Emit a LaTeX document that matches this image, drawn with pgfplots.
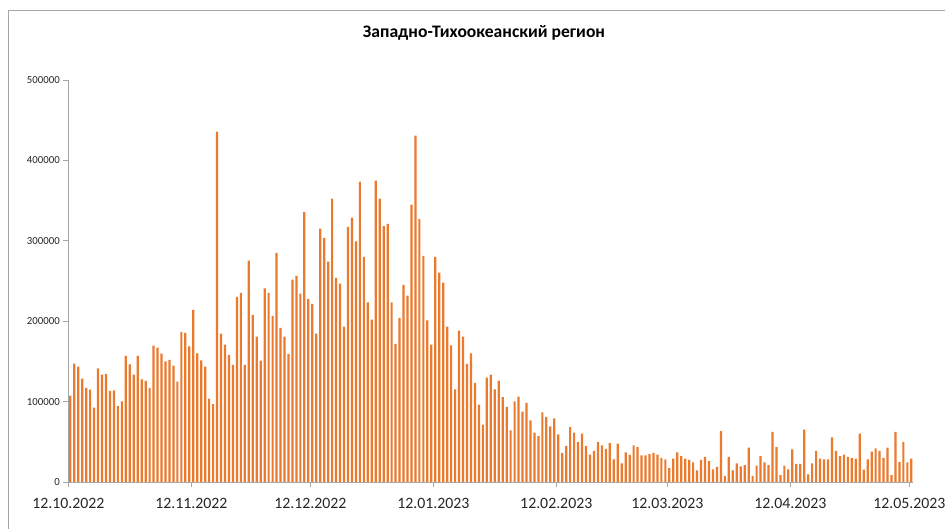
\documentclass[border=0pt]{standalone}
\usepackage{pgfplots}
\pgfplotsset{compat=1.18}
\usepackage{pgfplotstable}
\usepackage{fontspec}
\setmainfont{Carlito}
\definecolor{barorange}{HTML}{EB7A2C}
\definecolor{axisgray}{HTML}{A6A6A6}
\definecolor{txt}{HTML}{262626}
\pgfplotstableread{
x y
0 107400
1 147200
2 143500
3 128600
4 117000
5 114900
6 92500
7 141400
8 133500
9 134400
10 113200
11 114000
12 94600
13 100400
14 156800
15 146400
16 133500
17 156800
18 127700
19 125700
20 117000
21 169600
22 167100
23 159700
24 150100
25 151800
26 144700
27 124800
28 186600
29 185400
30 168800
31 214000
32 160100
33 151400
34 143500
35 103700
36 97000
37 435800
38 184500
39 170900
40 158000
41 145600
42 230200
43 235100
44 145600
45 275400
46 207800
47 180800
48 151000
49 240900
50 235100
51 206500
52 284900
53 191600
54 180800
55 159200
56 251700
57 256300
58 234300
59 335900
60 227300
61 221400
62 184500
63 315200
64 303600
65 274100
66 352500
67 253800
68 246700
69 193200
70 317200
71 328900
72 299400
73 373600
74 279900
75 223500
76 202000
77 374900
78 352500
79 318100
80 321000
81 223500
82 171700
83 204000
84 245100
85 231800
86 345000
87 430900
88 326800
89 281200
90 201100
91 170900
92 279900
93 260400
94 248000
95 193200
96 170000
97 115300
98 188300
99 180800
100 146800
101 160100
102 123200
103 96200
104 71300
105 129800
106 133500
107 115300
108 126100
109 105700
110 93300
111 64300
112 100400
113 106200
114 87500
115 98300
116 76700
117 61400
118 57200
119 86700
120 80900
121 69300
122 79200
123 59300
124 36100
125 44800
126 68400
127 61400
128 49800
129 60100
130 44800
131 34000
132 38600
133 49800
134 45600
135 41100
136 48500
137 28200
138 47700
139 23200
140 36900
141 33600
142 45600
143 43500
144 33200
145 33200
146 34800
147 36100
148 34000
149 29900
150 28200
151 17400
152 29000
153 36900
154 32300
155 29000
156 27400
157 24500
158 14500
159 27400
160 31100
161 26100
162 15800
163 18700
164 63400
165 7500
166 31100
167 14500
168 23200
169 19500
170 21100
171 42700
172 7500
173 20300
174 32300
175 24500
176 21100
177 62200
178 43500
179 8700
180 20300
181 15800
182 40600
183 22400
184 22400
185 65100
186 9500
187 23200
188 38600
189 29000
190 28200
191 28200
192 55600
193 38600
194 32300
195 34000
196 31100
197 29900
198 29000
199 60100
200 15300
201 28200
202 37700
203 41900
204 38600
205 29900
206 42700
207 8700
208 62200
209 24900
210 49800
211 24500
212 29000
}\datatable
\begin{document}
\begin{tikzpicture}
\path[use as bounding box] (0,0) rectangle (945pt,529pt);
\draw[axisgray, line width=0.8pt] (8pt,0) -- (8pt,519pt) -- (945pt,519pt);
\begin{axis}[
  at={(68.3pt,47pt)}, anchor=south west,
  scale only axis, width=845pt, height=402pt,
  xmin=-0.5, xmax=212.5, ymin=0, ymax=500000,
  axis x line*=bottom, axis y line*=left,
  axis line style={axisgray, line width=0.8pt},
  tick style={axisgray, line width=0.8pt},
  tick align=outside, major tick length=5pt,
  xtick={-0.5,30.5,60.5,91.5,122.5,150.5,181.5,211.5},
  xticklabels={12.10.2022,12.11.2022,12.12.2022,12.01.2023,12.02.2023,12.03.2023,12.04.2023,12.05.2023},
  ytick={0,100000,200000,300000,400000,500000},
  yticklabels={0,100000,200000,300000,400000,500000},
  xticklabel style={font=\fontsize{15.8}{18}\selectfont, text=txt, yshift=-8pt},
  yticklabel style={font=\fontsize{10.8}{12}\selectfont, text=txt},
  scaled y ticks=false,
  /pgf/number format/assume math mode=true,
  clip=false,
]
\addplot[ybar, bar width=2.2pt, fill=barorange, draw=none] table[x=x,y=y] {\datatable};
\end{axis}
\node[font=\bfseries\fontsize{17.6}{20}\selectfont, text=black] at (484pt,496pt) {Западно-Тихоокеанский регион};
\end{tikzpicture}
\end{document}
